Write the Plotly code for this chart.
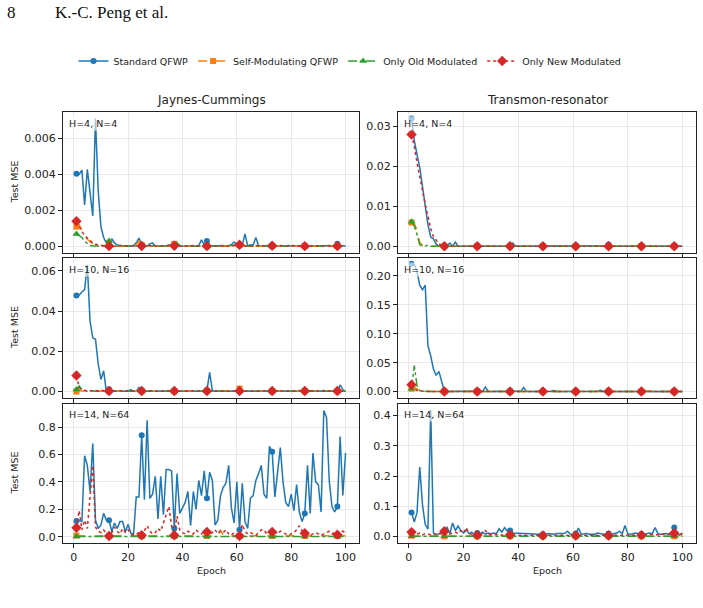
import plotly.graph_objects as go
from plotly.subplots import make_subplots

epochs = list(range(1, 101))

# ---------------- Jaynes-Cummings, H=4, N=4 ----------------
jc4_std = [0.00403, 0.00400, 0.00424, 0.00230, 0.00428, 0.00290, 0.00170, 0.00710, 0.00310, 0.00110,
           0.00050, 0.00020, 0.00010, 0.00043, 0.00020, 0.00008, 0.00005, 0.00003, 0.00002, 0.00002,
           0.00003, 0.00005, 0.00020, 0.00047, 0.00010, 0.00005, 0.00003, 0.00015, 0.00020, 0.00002,
           0.00003, 0.00002, 0.00004, 0.00003, 0.00010, 0.00005, 0.00003, 0.00020, 0.00004, 0.00003,
           0.00002, 0.00003, 0.00004, 0.00002, 0.00003, 0.00005, 0.00037, 0.00008, 0.00030, 0.00005,
           0.00003, 0.00004, 0.00002, 0.00003, 0.00005, 0.00003, 0.00004, 0.00010, 0.00025, 0.00008,
           0.00005, 0.00008, 0.00070, 0.00003, 0.00010, 0.00008, 0.00050, 0.00003, 0.00004, 0.00002,
           0.00003, 0.00005, 0.00003, 0.00002, 0.00003, 0.00004, 0.00002, 0.00003, 0.00005, 0.00003,
           0.00002, 0.00003, 0.00004, 0.00002, 0.00003, 0.00002, 0.00004, 0.00003, 0.00002, 0.00003,
           0.00004, 0.00002, 0.00003, 0.00005, 0.00003, 0.00010, 0.00015, 0.00005, 0.00002, 0.00003]
jc4_self = [0.00110, 0.00120, 0.00090, 0.00060, 0.00040, 0.00025, 0.00015, 0.00008, 0.00005, 0.00003,
            0.00003, 0.00005, 0.00020, 0.00006, 0.00003, 0.00002, 0.00004, 0.00003, 0.00002, 0.00003,
            0.00002, 0.00004, 0.00010, 0.00030, 0.00008, 0.00003, 0.00002, 0.00004, 0.00003, 0.00002,
            0.00003, 0.00002, 0.00004, 0.00003, 0.00005, 0.00008, 0.00015, 0.00004, 0.00003, 0.00002,
            0.00003, 0.00002, 0.00004, 0.00003, 0.00002, 0.00003, 0.00005, 0.00003, 0.00002, 0.00003,
            0.00004, 0.00002, 0.00003, 0.00002, 0.00004, 0.00003, 0.00002, 0.00003, 0.00005, 0.00003,
            0.00008, 0.00003, 0.00002, 0.00004, 0.00003, 0.00002, 0.00003, 0.00004, 0.00002, 0.00003,
            0.00002, 0.00004, 0.00003, 0.00002, 0.00003, 0.00005, 0.00003, 0.00002, 0.00004, 0.00003,
            0.00002, 0.00003, 0.00004, 0.00002, 0.00003, 0.00002, 0.00004, 0.00003, 0.00002, 0.00003,
            0.00004, 0.00002, 0.00003, 0.00005, 0.00003, 0.00002, 0.00004, 0.00003, 0.00002, 0.00003]
jc4_old = [0.00070, 0.00060, 0.00050, 0.00030, 0.00015, 0.00005, 0.00003, 0.00002, 0.00002, 0.00003,
           0.00004, 0.00010, 0.00030, 0.00010, 0.00003, 0.00002, 0.00003, 0.00002, 0.00004, 0.00003,
           0.00002, 0.00003, 0.00002, 0.00004, 0.00003, 0.00002, 0.00003, 0.00005, 0.00003, 0.00002,
           0.00003, 0.00002, 0.00004, 0.00003, 0.00002, 0.00005, 0.00010, 0.00020, 0.00004, 0.00002,
           0.00003, 0.00002, 0.00004, 0.00003, 0.00002, 0.00003, 0.00002, 0.00004, 0.00003, 0.00002,
           0.00003, 0.00002, 0.00004, 0.00003, 0.00002, 0.00003, 0.00002, 0.00004, 0.00003, 0.00008,
           0.00015, 0.00005, 0.00002, 0.00003, 0.00002, 0.00004, 0.00003, 0.00002, 0.00003, 0.00002,
           0.00004, 0.00003, 0.00002, 0.00003, 0.00002, 0.00004, 0.00003, 0.00002, 0.00005, 0.00010,
           0.00004, 0.00002, 0.00003, 0.00002, 0.00004, 0.00003, 0.00002, 0.00003, 0.00002, 0.00004,
           0.00003, 0.00002, 0.00003, 0.00002, 0.00004, 0.00003, 0.00002, 0.00003, 0.00002, 0.00004]
jc4_new = [0.00140, 0.00110, 0.00085, 0.00060, 0.00045, 0.00030, 0.00020, 0.00012, 0.00008, 0.00005,
           0.00004, 0.00003, 0.00002, 0.00005, 0.00003, 0.00002, 0.00004, 0.00006, 0.00003, 0.00002,
           0.00004, 0.00003, 0.00005, 0.00002, 0.00003, 0.00004, 0.00002, 0.00006, 0.00003, 0.00002,
           0.00004, 0.00003, 0.00002, 0.00005, 0.00003, 0.00002, 0.00004, 0.00003, 0.00002, 0.00005,
           0.00003, 0.00002, 0.00004, 0.00006, 0.00003, 0.00002, 0.00004, 0.00003, 0.00002, 0.00005,
           0.00003, 0.00002, 0.00004, 0.00003, 0.00002, 0.00005, 0.00003, 0.00002, 0.00004, 0.00006,
           0.00010, 0.00003, 0.00002, 0.00004, 0.00003, 0.00002, 0.00005, 0.00003, 0.00002, 0.00004,
           0.00003, 0.00002, 0.00004, 0.00003, 0.00002, 0.00005, 0.00003, 0.00002, 0.00004, 0.00006,
           0.00003, 0.00002, 0.00004, 0.00003, 0.00002, 0.00005, 0.00003, 0.00002, 0.00004, 0.00003,
           0.00002, 0.00005, 0.00003, 0.00002, 0.00004, 0.00003, 0.00002, 0.00005, 0.00003, 0.00002]

# ---------------- Transmon-resonator, H=4, N=4 ----------------
tr4_std = [0.0320, 0.0265, 0.0230, 0.0197, 0.0150, 0.0104, 0.0055, 0.0024, 0.0019, 0.0006,
           0.0002, 0.0001, 0.0001, 0.0002, 0.0009, 0.0001, 0.0011, 0.0001, 0.0001, 0.0001,
           0.0001, 0.0002, 0.0001, 0.0001, 0.0001, 0.0001, 0.0001, 0.0001, 0.0002, 0.0001,
           0.0001, 0.0001, 0.0002, 0.0001, 0.0001, 0.0001, 0.0003, 0.0009, 0.0001, 0.0001,
           0.0001, 0.0001, 0.0001, 0.0002, 0.0001, 0.0001, 0.0001, 0.0001, 0.0001, 0.0001,
           0.0001, 0.0001, 0.0001, 0.0001, 0.0002, 0.0001, 0.0001, 0.0001, 0.0001, 0.0001,
           0.0001, 0.0001, 0.0001, 0.0001, 0.0001, 0.0002, 0.0001, 0.0001, 0.0001, 0.0001,
           0.0001, 0.0002, 0.0005, 0.0001, 0.0001, 0.0001, 0.0001, 0.0001, 0.0001, 0.0001,
           0.0001, 0.0001, 0.0001, 0.0001, 0.0001, 0.0002, 0.0001, 0.0001, 0.0001, 0.0001,
           0.0001, 0.0001, 0.0001, 0.0001, 0.0001, 0.0001, 0.0001, 0.0001, 0.0001, 0.0001]
tr4_self = [0.0060, 0.0058, 0.0040, 0.0010, 0.0003, 0.0001, 0.0001, 0.0001, 0.0001, 0.0001,
            0.0001, 0.0001, 0.0001, 0.0001, 0.0001, 0.0001, 0.0001, 0.0001, 0.0001, 0.0001,
            0.0001, 0.0001, 0.0001, 0.0001, 0.0001, 0.0001, 0.0001, 0.0001, 0.0001, 0.0001,
            0.0001, 0.0001, 0.0001, 0.0001, 0.0001, 0.0001, 0.0001, 0.0001, 0.0001, 0.0001,
            0.0001, 0.0001, 0.0001, 0.0001, 0.0001, 0.0001, 0.0001, 0.0001, 0.0001, 0.0001,
            0.0001, 0.0001, 0.0001, 0.0001, 0.0001, 0.0001, 0.0001, 0.0001, 0.0001, 0.0001,
            0.0001, 0.0001, 0.0001, 0.0001, 0.0001, 0.0001, 0.0001, 0.0001, 0.0001, 0.0001,
            0.0001, 0.0001, 0.0001, 0.0001, 0.0001, 0.0001, 0.0001, 0.0001, 0.0001, 0.0001,
            0.0001, 0.0001, 0.0001, 0.0001, 0.0001, 0.0001, 0.0001, 0.0001, 0.0001, 0.0001,
            0.0001, 0.0001, 0.0001, 0.0001, 0.0001, 0.0001, 0.0001, 0.0001, 0.0001, 0.0001]
tr4_old = [0.0062, 0.0052, 0.0030, 0.0005, 0.0002, 0.0001, 0.0004, 0.0001, 0.0001, 0.0001,
           0.0001, 0.0001, 0.0001, 0.0001, 0.0001, 0.0001, 0.0001, 0.0001, 0.0001, 0.0001,
           0.0001, 0.0001, 0.0001, 0.0001, 0.0001, 0.0001, 0.0001, 0.0001, 0.0001, 0.0001,
           0.0001, 0.0001, 0.0001, 0.0001, 0.0001, 0.0001, 0.0001, 0.0001, 0.0001, 0.0001,
           0.0001, 0.0001, 0.0001, 0.0001, 0.0001, 0.0001, 0.0001, 0.0001, 0.0001, 0.0001,
           0.0001, 0.0001, 0.0001, 0.0001, 0.0001, 0.0001, 0.0001, 0.0001, 0.0001, 0.0001,
           0.0001, 0.0001, 0.0001, 0.0001, 0.0001, 0.0001, 0.0001, 0.0001, 0.0001, 0.0001,
           0.0001, 0.0001, 0.0001, 0.0001, 0.0001, 0.0001, 0.0001, 0.0001, 0.0001, 0.0001,
           0.0001, 0.0001, 0.0001, 0.0001, 0.0001, 0.0001, 0.0001, 0.0001, 0.0001, 0.0001,
           0.0001, 0.0001, 0.0001, 0.0001, 0.0001, 0.0001, 0.0001, 0.0001, 0.0001, 0.0001]
tr4_new = [0.0280, 0.0250, 0.0210, 0.0170, 0.0140, 0.0105, 0.0075, 0.0045, 0.0025, 0.0015,
           0.0007, 0.0003, 0.0001, 0.0001, 0.0001, 0.0001, 0.0001, 0.0001, 0.0001, 0.0001,
           0.0001, 0.0001, 0.0001, 0.0001, 0.0001, 0.0001, 0.0001, 0.0001, 0.0001, 0.0001,
           0.0001, 0.0001, 0.0001, 0.0001, 0.0001, 0.0001, 0.0001, 0.0001, 0.0001, 0.0001,
           0.0001, 0.0001, 0.0001, 0.0001, 0.0001, 0.0001, 0.0001, 0.0001, 0.0001, 0.0001,
           0.0001, 0.0001, 0.0001, 0.0001, 0.0001, 0.0001, 0.0001, 0.0001, 0.0001, 0.0001,
           0.0001, 0.0001, 0.0001, 0.0001, 0.0001, 0.0001, 0.0001, 0.0001, 0.0001, 0.0001,
           0.0001, 0.0001, 0.0001, 0.0001, 0.0001, 0.0001, 0.0001, 0.0001, 0.0001, 0.0001,
           0.0001, 0.0001, 0.0001, 0.0001, 0.0001, 0.0001, 0.0001, 0.0001, 0.0001, 0.0001,
           0.0001, 0.0001, 0.0001, 0.0001, 0.0001, 0.0001, 0.0001, 0.0001, 0.0001, 0.0001]

# ---------------- Jaynes-Cummings, H=10, N=16 ----------------
jc10_std = [0.0478, 0.0480, 0.0495, 0.0507, 0.0630, 0.0350, 0.0267, 0.0260, 0.0137, 0.0060,
            0.0103, 0.0000, 0.0012, 0.0004, 0.0002, 0.0001, 0.0001, 0.0002, 0.0001, 0.0002,
            0.0010, 0.0002, 0.0001, 0.0020, 0.0005, 0.0002, 0.0001, 0.0001, 0.0002, 0.0001,
            0.0001, 0.0002, 0.0001, 0.0001, 0.0002, 0.0001, 0.0001, 0.0002, 0.0001, 0.0001,
            0.0002, 0.0001, 0.0001, 0.0002, 0.0001, 0.0001, 0.0002, 0.0001, 0.0005, 0.0095,
            0.0005, 0.0001, 0.0002, 0.0001, 0.0001, 0.0002, 0.0001, 0.0001, 0.0002, 0.0001,
            0.0002, 0.0001, 0.0001, 0.0002, 0.0001, 0.0001, 0.0002, 0.0001, 0.0001, 0.0002,
            0.0001, 0.0001, 0.0002, 0.0001, 0.0001, 0.0002, 0.0001, 0.0001, 0.0002, 0.0001,
            0.0001, 0.0002, 0.0001, 0.0001, 0.0002, 0.0001, 0.0001, 0.0002, 0.0001, 0.0001,
            0.0002, 0.0001, 0.0001, 0.0002, 0.0001, 0.0001, 0.0002, 0.0033, 0.0010, 0.0000]
jc10_self = [0.0000, 0.0005, 0.0003, 0.0002, 0.0002, 0.0001, 0.0002, 0.0001, 0.0001, 0.0002,
             0.0001, 0.0001, 0.0002, 0.0001, 0.0001, 0.0002, 0.0001, 0.0001, 0.0002, 0.0001,
             0.0001, 0.0002, 0.0001, 0.0001, 0.0002, 0.0001, 0.0001, 0.0002, 0.0001, 0.0001,
             0.0002, 0.0001, 0.0001, 0.0002, 0.0001, 0.0001, 0.0002, 0.0001, 0.0001, 0.0002,
             0.0001, 0.0001, 0.0002, 0.0001, 0.0001, 0.0002, 0.0001, 0.0001, 0.0002, 0.0001,
             0.0001, 0.0002, 0.0001, 0.0001, 0.0002, 0.0001, 0.0001, 0.0002, 0.0001, 0.0004,
             0.0015, 0.0004, 0.0001, 0.0002, 0.0001, 0.0001, 0.0002, 0.0001, 0.0001, 0.0002,
             0.0001, 0.0001, 0.0002, 0.0001, 0.0001, 0.0002, 0.0001, 0.0001, 0.0002, 0.0001,
             0.0001, 0.0002, 0.0001, 0.0001, 0.0002, 0.0001, 0.0001, 0.0002, 0.0001, 0.0001,
             0.0002, 0.0001, 0.0001, 0.0002, 0.0001, 0.0001, 0.0002, 0.0001, 0.0001, 0.0002]
jc10_old = [0.0010, 0.0028, 0.0010, 0.0004, 0.0002, 0.0003, 0.0002, 0.0004, 0.0002, 0.0007,
            0.0002, 0.0001, 0.0002, 0.0003, 0.0001, 0.0002, 0.0001, 0.0003, 0.0002, 0.0001,
            0.0002, 0.0003, 0.0001, 0.0002, 0.0001, 0.0003, 0.0002, 0.0001, 0.0002, 0.0003,
            0.0001, 0.0002, 0.0001, 0.0003, 0.0002, 0.0001, 0.0002, 0.0003, 0.0001, 0.0002,
            0.0001, 0.0003, 0.0002, 0.0001, 0.0002, 0.0003, 0.0001, 0.0002, 0.0001, 0.0003,
            0.0002, 0.0001, 0.0002, 0.0003, 0.0001, 0.0002, 0.0001, 0.0003, 0.0002, 0.0001,
            0.0002, 0.0003, 0.0001, 0.0002, 0.0001, 0.0003, 0.0002, 0.0001, 0.0002, 0.0003,
            0.0001, 0.0002, 0.0001, 0.0003, 0.0002, 0.0001, 0.0002, 0.0003, 0.0001, 0.0002,
            0.0001, 0.0003, 0.0002, 0.0001, 0.0002, 0.0003, 0.0001, 0.0002, 0.0001, 0.0003,
            0.0002, 0.0001, 0.0002, 0.0003, 0.0001, 0.0002, 0.0001, 0.0003, 0.0002, 0.0001]
jc10_new = [0.0080, 0.0020, 0.0008, 0.0005, 0.0003, 0.0004, 0.0003, 0.0005, 0.0004, 0.0010,
            0.0003, 0.0002, 0.0003, 0.0004, 0.0002, 0.0003, 0.0004, 0.0002, 0.0003, 0.0005,
            0.0002, 0.0003, 0.0004, 0.0002, 0.0003, 0.0004, 0.0002, 0.0003, 0.0005, 0.0002,
            0.0003, 0.0004, 0.0002, 0.0003, 0.0004, 0.0002, 0.0003, 0.0005, 0.0002, 0.0003,
            0.0004, 0.0002, 0.0003, 0.0004, 0.0002, 0.0003, 0.0005, 0.0002, 0.0003, 0.0004,
            0.0002, 0.0003, 0.0004, 0.0002, 0.0003, 0.0005, 0.0002, 0.0003, 0.0004, 0.0002,
            0.0003, 0.0004, 0.0002, 0.0003, 0.0005, 0.0002, 0.0003, 0.0004, 0.0002, 0.0003,
            0.0004, 0.0002, 0.0003, 0.0005, 0.0002, 0.0003, 0.0004, 0.0002, 0.0003, 0.0004,
            0.0002, 0.0003, 0.0005, 0.0002, 0.0003, 0.0004, 0.0002, 0.0003, 0.0004, 0.0002,
            0.0003, 0.0005, 0.0002, 0.0003, 0.0004, 0.0002, 0.0003, 0.0004, 0.0002, 0.0003]

# ---------------- Transmon-resonator, H=10, N=16 ----------------
tr10_std = [0.221, 0.220, 0.207, 0.184, 0.176, 0.184, 0.079, 0.062, 0.039, 0.028,
            0.035, 0.017, 0.0005, 0.0003, 0.0004, 0.0003, 0.0004, 0.0003, 0.0004, 0.0003,
            0.0004, 0.0003, 0.0004, 0.0003, 0.0004, 0.0003, 0.0010, 0.0080, 0.0005, 0.0003,
            0.0004, 0.0003, 0.0004, 0.0003, 0.0004, 0.0003, 0.0004, 0.0003, 0.0004, 0.0003,
            0.0010, 0.0070, 0.0005, 0.0003, 0.0004, 0.0003, 0.0004, 0.0003, 0.0004, 0.0003,
            0.0004, 0.0008, 0.0020, 0.0004, 0.0003, 0.0004, 0.0003, 0.0004, 0.0003, 0.0004,
            0.0003, 0.0004, 0.0003, 0.0004, 0.0003, 0.0004, 0.0003, 0.0004, 0.0008, 0.0025,
            0.0004, 0.0003, 0.0004, 0.0003, 0.0004, 0.0003, 0.0004, 0.0003, 0.0004, 0.0003,
            0.0004, 0.0003, 0.0004, 0.0003, 0.0004, 0.0003, 0.0004, 0.0003, 0.0004, 0.0003,
            0.0004, 0.0003, 0.0004, 0.0003, 0.0004, 0.0003, 0.0004, 0.0003, 0.0004, 0.0003]
tr10_self = [0.0050, 0.0080, 0.0040, 0.0040, 0.0030, 0.0010, 0.0005, 0.0004, 0.0003, 0.0004,
             0.0003, 0.0004, 0.0003, 0.0004, 0.0003, 0.0004, 0.0003, 0.0004, 0.0003, 0.0004,
             0.0003, 0.0004, 0.0003, 0.0004, 0.0003, 0.0004, 0.0003, 0.0004, 0.0003, 0.0004,
             0.0003, 0.0004, 0.0003, 0.0004, 0.0003, 0.0004, 0.0003, 0.0004, 0.0003, 0.0004,
             0.0003, 0.0004, 0.0003, 0.0004, 0.0003, 0.0004, 0.0003, 0.0004, 0.0003, 0.0004,
             0.0003, 0.0004, 0.0003, 0.0004, 0.0003, 0.0004, 0.0003, 0.0004, 0.0003, 0.0004,
             0.0003, 0.0004, 0.0003, 0.0004, 0.0003, 0.0004, 0.0003, 0.0004, 0.0003, 0.0004,
             0.0003, 0.0004, 0.0003, 0.0004, 0.0003, 0.0004, 0.0003, 0.0004, 0.0003, 0.0004,
             0.0003, 0.0004, 0.0003, 0.0004, 0.0003, 0.0004, 0.0015, 0.0004, 0.0003, 0.0004,
             0.0003, 0.0004, 0.0003, 0.0004, 0.0003, 0.0004, 0.0003, 0.0004, 0.0003, 0.0004]
tr10_old = [0.0050, 0.0450, 0.0100, 0.0020, 0.0010, 0.0005, 0.0003, 0.0002, 0.0003, 0.0002,
            0.0003, 0.0002, 0.0003, 0.0002, 0.0003, 0.0002, 0.0003, 0.0002, 0.0003, 0.0002,
            0.0003, 0.0002, 0.0003, 0.0002, 0.0003, 0.0002, 0.0003, 0.0002, 0.0003, 0.0002,
            0.0003, 0.0002, 0.0003, 0.0002, 0.0003, 0.0002, 0.0003, 0.0002, 0.0003, 0.0002,
            0.0003, 0.0002, 0.0003, 0.0002, 0.0003, 0.0002, 0.0003, 0.0002, 0.0003, 0.0002,
            0.0003, 0.0002, 0.0003, 0.0002, 0.0003, 0.0002, 0.0003, 0.0002, 0.0003, 0.0002,
            0.0003, 0.0002, 0.0003, 0.0002, 0.0003, 0.0002, 0.0003, 0.0002, 0.0003, 0.0002,
            0.0003, 0.0002, 0.0003, 0.0002, 0.0003, 0.0002, 0.0003, 0.0002, 0.0003, 0.0002,
            0.0003, 0.0002, 0.0003, 0.0002, 0.0003, 0.0002, 0.0003, 0.0002, 0.0003, 0.0002,
            0.0003, 0.0002, 0.0003, 0.0002, 0.0003, 0.0002, 0.0003, 0.0002, 0.0003, 0.0002]
tr10_new = [0.0120, 0.0050, 0.0020, 0.0010, 0.0005, 0.0003, 0.0002, 0.0002, 0.0002, 0.0002,
            0.0002, 0.0002, 0.0002, 0.0002, 0.0002, 0.0002, 0.0002, 0.0002, 0.0002, 0.0002,
            0.0002, 0.0002, 0.0002, 0.0002, 0.0002, 0.0002, 0.0002, 0.0002, 0.0002, 0.0002,
            0.0002, 0.0002, 0.0002, 0.0002, 0.0002, 0.0002, 0.0002, 0.0002, 0.0002, 0.0002,
            0.0002, 0.0002, 0.0002, 0.0002, 0.0002, 0.0002, 0.0002, 0.0002, 0.0002, 0.0002,
            0.0002, 0.0002, 0.0002, 0.0002, 0.0002, 0.0002, 0.0002, 0.0002, 0.0002, 0.0002,
            0.0002, 0.0002, 0.0002, 0.0002, 0.0002, 0.0002, 0.0002, 0.0002, 0.0002, 0.0002,
            0.0002, 0.0002, 0.0002, 0.0002, 0.0002, 0.0002, 0.0002, 0.0002, 0.0002, 0.0002,
            0.0002, 0.0002, 0.0002, 0.0002, 0.0002, 0.0002, 0.0002, 0.0002, 0.0002, 0.0002,
            0.0002, 0.0002, 0.0002, 0.0002, 0.0002, 0.0002, 0.0002, 0.0002, 0.0002, 0.0002]

# ---------------- Jaynes-Cummings, H=14, N=64 ----------------
jc14_std = [0.114, 0.120, 0.110, 0.590, 0.520, 0.330, 0.680, 0.120, 0.060, 0.085,
            0.170, 0.120, 0.120, 0.036, 0.100, 0.060, 0.110, 0.110, 0.036, 0.090,
            0.025, 0.017, 0.290, 0.290, 0.740, 0.270, 0.850, 0.280, 0.310, 0.440,
            0.130, 0.440, 0.160, 0.490, 0.490, 0.480, 0.060, 0.460, 0.170, 0.210,
            0.250, 0.330, 0.080, 0.330, 0.200, 0.410, 0.300, 0.480, 0.280, 0.470,
            0.410, 0.085, 0.120, 0.300, 0.360, 0.390, 0.520, 0.210, 0.100, 0.400,
            0.050, 0.390, 0.110, 0.060, 0.280, 0.300, 0.410, 0.460, 0.520, 0.310,
            0.280, 0.660, 0.620, 0.290, 0.480, 0.650, 0.400, 0.250, 0.220, 0.310,
            0.190, 0.380, 0.180, 0.110, 0.170, 0.520, 0.170, 0.610, 0.400, 0.380,
            0.180, 0.920, 0.870, 0.410, 0.220, 0.180, 0.220, 0.730, 0.300, 0.610]
jc14_self = [0.008, 0.006, 0.007, 0.005, 0.006, 0.008, 0.007, 0.005, 0.006, 0.007,
             0.005, 0.006, 0.005, 0.007, 0.006, 0.005, 0.007, 0.006, 0.005, 0.006,
             0.007, 0.005, 0.006, 0.007, 0.005, 0.006, 0.007, 0.005, 0.006, 0.007,
             0.005, 0.006, 0.007, 0.005, 0.006, 0.007, 0.005, 0.006, 0.007, 0.005,
             0.006, 0.007, 0.005, 0.006, 0.007, 0.005, 0.006, 0.007, 0.005, 0.006,
             0.007, 0.005, 0.010, 0.050, 0.008, 0.006, 0.007, 0.005, 0.006, 0.007,
             0.005, 0.006, 0.007, 0.005, 0.006, 0.007, 0.005, 0.006, 0.007, 0.005,
             0.006, 0.007, 0.005, 0.006, 0.007, 0.005, 0.006, 0.007, 0.005, 0.006,
             0.007, 0.005, 0.006, 0.007, 0.005, 0.006, 0.007, 0.005, 0.006, 0.007,
             0.005, 0.006, 0.007, 0.005, 0.006, 0.007, 0.005, 0.006, 0.007, 0.005]
jc14_old = [0.002, 0.002, 0.002, 0.002, 0.002, 0.002, 0.002, 0.002, 0.002, 0.002,
            0.002, 0.002, 0.002, 0.002, 0.002, 0.002, 0.002, 0.002, 0.002, 0.002,
            0.002, 0.002, 0.002, 0.002, 0.002, 0.002, 0.002, 0.002, 0.002, 0.002,
            0.002, 0.002, 0.002, 0.002, 0.002, 0.002, 0.002, 0.002, 0.002, 0.002,
            0.002, 0.002, 0.002, 0.002, 0.002, 0.002, 0.002, 0.002, 0.002, 0.002,
            0.002, 0.002, 0.002, 0.002, 0.002, 0.002, 0.002, 0.002, 0.002, 0.002,
            0.002, 0.002, 0.002, 0.002, 0.002, 0.002, 0.002, 0.002, 0.002, 0.002,
            0.002, 0.002, 0.002, 0.002, 0.002, 0.002, 0.002, 0.002, 0.002, 0.002,
            0.002, 0.002, 0.002, 0.002, 0.002, 0.002, 0.002, 0.002, 0.002, 0.002,
            0.002, 0.002, 0.002, 0.002, 0.002, 0.002, 0.002, 0.002, 0.002, 0.002]
jc14_new = [0.065, 0.190, 0.050, 0.120, 0.060, 0.300, 0.520, 0.070, 0.040, 0.030,
            0.050, 0.020, 0.005, 0.030, 0.070, 0.040, 0.020, 0.060, 0.030, 0.050,
            0.020, 0.010, 0.020, 0.030, 0.010, 0.050, 0.080, 0.040, 0.020, 0.030,
            0.060, 0.040, 0.100, 0.150, 0.220, 0.080, 0.010, 0.150, 0.050, 0.030,
            0.020, 0.040, 0.030, 0.020, 0.050, 0.030, 0.020, 0.040, 0.035, 0.020,
            0.030, 0.050, 0.020, 0.040, 0.030, 0.050, 0.020, 0.010, 0.030, 0.020,
            0.005, 0.090, 0.040, 0.020, 0.030, 0.020, 0.010, 0.030, 0.050, 0.050,
            0.020, 0.030, 0.035, 0.040, 0.020, 0.040, 0.030, 0.020, 0.010, 0.020,
            0.030, 0.050, 0.080, 0.040, 0.025, 0.020, 0.010, 0.020, 0.030, 0.020,
            0.010, 0.020, 0.030, 0.040, 0.020, 0.030, 0.015, 0.030, 0.040, 0.030]

# ---------------- Transmon-resonator, H=14, N=64 ----------------
tr14_std = [0.080, 0.048, 0.080, 0.230, 0.105, 0.040, 0.025, 0.418, 0.012, 0.005,
            0.010, 0.015, 0.018, 0.030, 0.010, 0.045, 0.020, 0.035, 0.020, 0.012,
            0.022, 0.010, 0.015, 0.005, 0.012, 0.010, 0.015, 0.008, 0.012, 0.010,
            0.012, 0.010, 0.026, 0.015, 0.030, 0.018, 0.020, 0.012, 0.011, 0.012,
            0.011, 0.010, 0.010, 0.009, 0.010, 0.009, 0.008, 0.009, 0.008, 0.008,
            0.010, 0.009, 0.008, 0.010, 0.009, 0.010, 0.011, 0.018, 0.009, 0.008,
            0.010, 0.028, 0.008, 0.009, 0.010, 0.008, 0.009, 0.008, 0.012, 0.010,
            0.008, 0.009, 0.010, 0.008, 0.009, 0.012, 0.018, 0.009, 0.037, 0.010,
            0.008, 0.009, 0.012, 0.010, 0.009, 0.008, 0.010, 0.012, 0.010, 0.030,
            0.010, 0.008, 0.009, 0.010, 0.008, 0.009, 0.030, 0.008, 0.005, 0.012]
tr14_self = [0.003, 0.002, 0.002, 0.001, 0.002, 0.001, 0.002, 0.001, 0.002, 0.001,
             0.002, 0.001, 0.001, 0.002, 0.001, 0.002, 0.001, 0.002, 0.001, 0.002,
             0.001, 0.002, 0.001, 0.002, 0.001, 0.002, 0.001, 0.002, 0.001, 0.002,
             0.001, 0.002, 0.001, 0.002, 0.001, 0.002, 0.001, 0.002, 0.001, 0.002,
             0.001, 0.002, 0.001, 0.002, 0.001, 0.002, 0.001, 0.002, 0.001, 0.002,
             0.001, 0.002, 0.001, 0.002, 0.001, 0.002, 0.001, 0.002, 0.001, 0.002,
             0.001, 0.002, 0.001, 0.002, 0.001, 0.002, 0.001, 0.002, 0.001, 0.002,
             0.001, 0.002, 0.001, 0.002, 0.001, 0.002, 0.001, 0.002, 0.001, 0.002,
             0.001, 0.002, 0.001, 0.002, 0.001, 0.002, 0.001, 0.002, 0.001, 0.002,
             0.001, 0.002, 0.001, 0.002, 0.001, 0.002, 0.001, 0.002, 0.001, 0.002]
tr14_old = [0.001, 0.001, 0.001, 0.001, 0.001, 0.001, 0.001, 0.001, 0.001, 0.001,
            0.001, 0.001, 0.001, 0.001, 0.001, 0.001, 0.001, 0.001, 0.001, 0.001,
            0.001, 0.001, 0.001, 0.001, 0.001, 0.001, 0.001, 0.001, 0.001, 0.001,
            0.001, 0.001, 0.001, 0.001, 0.001, 0.001, 0.001, 0.001, 0.001, 0.001,
            0.001, 0.001, 0.001, 0.001, 0.001, 0.001, 0.001, 0.001, 0.001, 0.001,
            0.001, 0.001, 0.001, 0.001, 0.001, 0.001, 0.001, 0.001, 0.001, 0.001,
            0.001, 0.001, 0.001, 0.001, 0.001, 0.001, 0.001, 0.001, 0.001, 0.001,
            0.001, 0.001, 0.001, 0.001, 0.001, 0.001, 0.001, 0.001, 0.001, 0.001,
            0.001, 0.001, 0.001, 0.001, 0.001, 0.001, 0.001, 0.001, 0.001, 0.001,
            0.001, 0.001, 0.001, 0.001, 0.001, 0.001, 0.001, 0.001, 0.001, 0.001]
tr14_new = [0.015, 0.010, 0.008, 0.012, 0.006, 0.010, 0.008, 0.006, 0.010, 0.008,
            0.006, 0.012, 0.018, 0.010, 0.008, 0.012, 0.015, 0.010, 0.020, 0.012,
            0.030, 0.010, 0.008, 0.012, 0.005, 0.008, 0.010, 0.020, 0.008, 0.006,
            0.005, 0.006, 0.008, 0.005, 0.006, 0.008, 0.006, 0.005, 0.006, 0.004,
            0.005, 0.004, 0.005, 0.004, 0.005, 0.004, 0.005, 0.004, 0.004, 0.005,
            0.004, 0.005, 0.004, 0.005, 0.004, 0.005, 0.004, 0.005, 0.004, 0.005,
            0.004, 0.005, 0.004, 0.005, 0.004, 0.005, 0.004, 0.005, 0.004, 0.005,
            0.004, 0.005, 0.004, 0.005, 0.004, 0.005, 0.004, 0.005, 0.004, 0.005,
            0.004, 0.005, 0.006, 0.005, 0.005, 0.006, 0.005, 0.006, 0.008, 0.006,
            0.005, 0.006, 0.008, 0.010, 0.008, 0.010, 0.012, 0.010, 0.008, 0.010]

series_names = ["Standard QFWP", "Self-Modulating QFWP", "Only Old Modulated", "Only New Modulated"]
colors = ["#1f77b4", "#ff7f0e", "#2ca02c", "#d62728"]
dashes = ["solid", "dash", "dashdot", "dot"]
symbols = ["circle", "square", "triangle-up", "diamond"]
msizes = [6, 6, 7, 8]

panels = [
    (1, 1, [jc4_std, jc4_self, jc4_old, jc4_new], "H=4, N=4",
     [-0.00036, 0.00746], [0, 0.002, 0.004, 0.006], ".3f"),
    (1, 2, [tr4_std, tr4_self, tr4_old, tr4_new], "H=4, N=4",
     [-0.0016, 0.0336], [0, 0.01, 0.02, 0.03], ".2f"),
    (2, 1, [jc10_std, jc10_self, jc10_old, jc10_new], "H=10, N=16",
     [-0.0032, 0.0664], [0, 0.02, 0.04, 0.06], ".2f"),
    (2, 2, [tr10_std, tr10_self, tr10_old, tr10_new], "H=10, N=16",
     [-0.011, 0.231], [0, 0.05, 0.10, 0.15, 0.20], ".2f"),
    (3, 1, [jc14_std, jc14_self, jc14_old, jc14_new], "H=14, N=64",
     [-0.046, 0.968], [0, 0.2, 0.4, 0.6, 0.8], ".1f"),
    (3, 2, [tr14_std, tr14_self, tr14_old, tr14_new], "H=14, N=64",
     [-0.021, 0.438], [0, 0.1, 0.2, 0.3, 0.4], ".1f"),
]

fig = make_subplots(rows=3, cols=2)

mark_idx = list(range(0, 100, 12))
for (r, c, data, label, yr, yt, fmt) in panels:
    for k in range(4):
        vals = data[k]
        fig.add_trace(go.Scatter(
            x=epochs, y=vals, mode="lines",
            line=dict(color=colors[k], width=1.5, dash=dashes[k]),
            showlegend=False, hoverinfo="skip"), row=r, col=c)
        fig.add_trace(go.Scatter(
            x=[epochs[i] for i in mark_idx], y=[vals[i] for i in mark_idx], mode="markers",
            marker=dict(color=colors[k], size=msizes[k], symbol=symbols[k], line=dict(width=0)),
            showlegend=False, hoverinfo="skip"), row=r, col=c)

# legend entries
for k in range(4):
    fig.add_trace(go.Scatter(
        x=[None], y=[None], mode="lines+markers", name=series_names[k],
        line=dict(color=colors[k], width=1.5, dash=dashes[k]),
        marker=dict(color=colors[k], size=msizes[k], symbol=symbols[k])), row=1, col=1)

W, H = 703, 608
L, R, T, B = 63, 7, 112, 65
pw = W - L - R
ph = H - T - B

def xd(a, b):
    return [(a - L) / pw, (b - L) / pw]

def yd(top, bot):
    return [(H - B - bot) / ph, (H - B - top) / ph]

xdoms = {1: xd(63, 359), 2: xd(398, 696)}
ydoms = {1: yd(112, 253), 2: yd(258, 398), 3: yd(404, 543)}

axis_common = dict(showline=True, linecolor="#222222", linewidth=1, mirror=True,
                   ticks="outside", ticklen=4, tickcolor="#222222", tickwidth=1,
                   showgrid=True, gridcolor="#e8e8e8", gridwidth=1, zeroline=False,
                   tickfont=dict(family="DejaVu Sans", size=11, color="#222222"))

for idx, (r, c, data, label, yr, yt, fmt) in enumerate(panels):
    n = (r - 1) * 2 + c
    xa = "xaxis" if n == 1 else f"xaxis{n}"
    ya = "yaxis" if n == 1 else f"yaxis{n}"
    fig.layout[xa].update(domain=xdoms[c], range=[-3.95, 104.95],
                          tickvals=[0, 20, 40, 60, 80, 100],
                          showticklabels=(r == 3), **axis_common)
    fig.layout[ya].update(domain=ydoms[r], range=yr, tickvals=yt, tickformat=fmt,
                          **axis_common)
    xref = "x" if n == 1 else f"x{n}"
    yref = "y" if n == 1 else f"y{n}"
    fig.add_annotation(text=label, xref=f"{xref} domain", yref=f"{yref} domain",
                       x=0.012, y=0.975, xanchor="left", yanchor="top", showarrow=False,
                       bgcolor="rgba(255,255,255,0.6)", borderpad=1,
                       font=dict(family="DejaVu Sans", size=9.5, color="#222222"))

def px(xp):
    return (xp - L) / pw

def py(yp):
    return (H - B - yp) / ph

# column titles
fig.add_annotation(text="Jaynes-Cummings", xref="paper", yref="paper", x=px(211), y=py(100),
                   xanchor="center", yanchor="middle", showarrow=False,
                   font=dict(family="DejaVu Sans", size=12, color="#222222"))
fig.add_annotation(text="Transmon-resonator", xref="paper", yref="paper", x=px(547), y=py(100),
                   xanchor="center", yanchor="middle", showarrow=False,
                   font=dict(family="DejaVu Sans", size=12, color="#222222"))
# y titles
for yc in [(112 + 253) / 2, (258 + 398) / 2, (404 + 543) / 2]:
    fig.add_annotation(text="Test MSE", xref="paper", yref="paper", x=px(14), y=py(yc),
                       xanchor="center", yanchor="middle", showarrow=False, textangle=-90,
                       font=dict(family="DejaVu Sans", size=9.5, color="#222222"))
# x titles
for xc in [211, 547]:
    fig.add_annotation(text="Epoch", xref="paper", yref="paper", x=px(xc), y=py(570),
                       xanchor="center", yanchor="middle", showarrow=False,
                       font=dict(family="DejaVu Sans", size=9.5, color="#222222"))
# page header
fig.add_annotation(text="8", xref="paper", yref="paper", x=px(5), y=py(13),
                   xanchor="left", yanchor="middle", showarrow=False,
                   font=dict(family="Liberation Serif", size=17, color="#111111"))
fig.add_annotation(text="K.-C. Peng et al.", xref="paper", yref="paper", x=px(53), y=py(13),
                   xanchor="left", yanchor="middle", showarrow=False,
                   font=dict(family="Liberation Serif", size=17, color="#111111"))

fig.update_layout(
    width=W, height=H,
    margin=dict(l=L, r=R, t=T, b=B),
    paper_bgcolor="white", plot_bgcolor="white",
    showlegend=True,
    legend=dict(orientation="h", x=px(350), y=py(61), xanchor="center", yanchor="middle",
                font=dict(family="DejaVu Sans", size=9.5, color="#222222"),
                bgcolor="rgba(0,0,0,0)", itemwidth=30, tracegroupgap=0),
)

fig.write_html("out.html")
